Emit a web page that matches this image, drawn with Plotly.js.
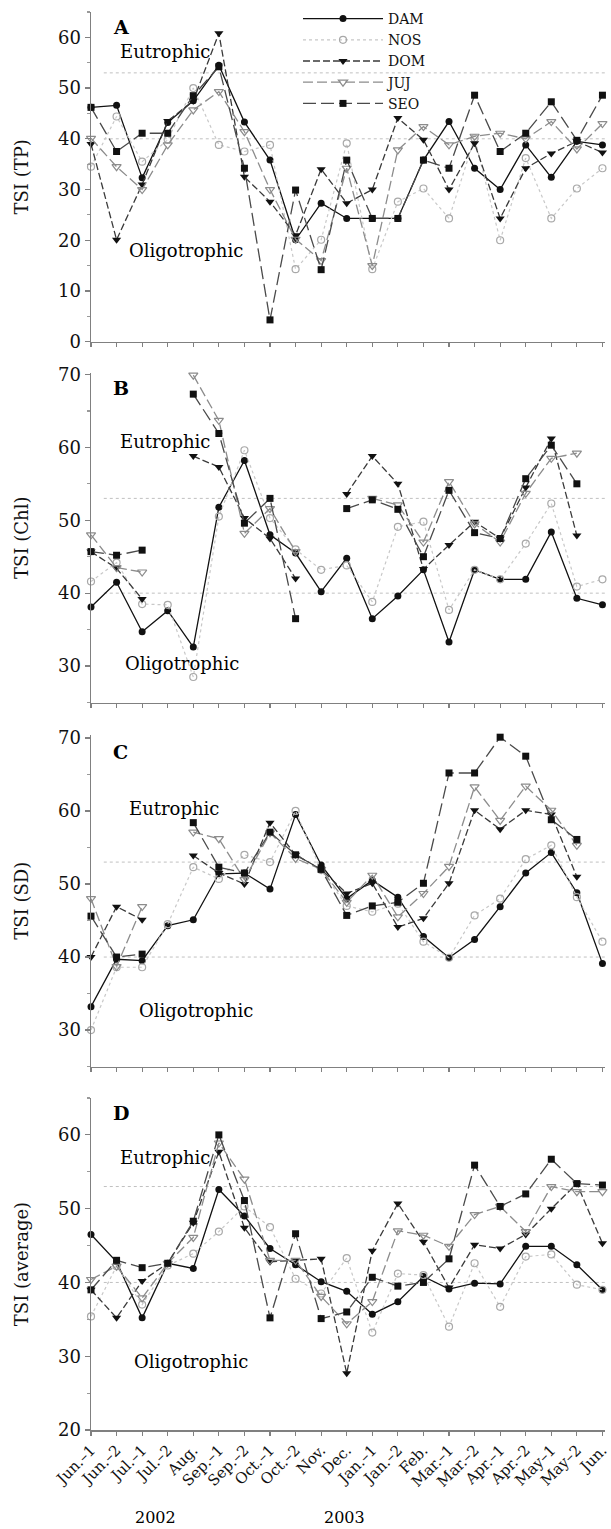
<!DOCTYPE html>
<html>
<head>
<meta charset="utf-8">
<script src="https://cdn.plot.ly/plotly-3.0.1.min.js"></script>
<style>html,body{margin:0;padding:0;background:#fff;}#chart{width:611px;height:1529px;}</style>
</head>
<body>
<div id="chart"></div>
<script>
// ---- categories ----
const months = ['Jun.–1','Jun.–2','Jul.–1','Jul.–2','Aug.','Sep.–1','Sep.–2','Oct.–1','Oct.–2','Nov.','Dec.','Jan.–1','Jan.–2','Feb.','Mar.–1','Mar.–2','Apr.–1','Apr.–2','May–1','May–2','Jun.'];
const stations = ['DAM','NOS','DOM','JUJ','SEO'];
const yearLabels = ['2002','2003'];
const eutrophicLimit = 53;
const oligotrophicLimit = 40;

// ---- A: TSI (TP) ----
const tpDAM = [46.2,46.6,32.3,43.2,47.5,54.5,43.3,35.8,20.1,27.3,24.3,24.3,24.3,35.8,43.4,34.2,30.0,38.8,32.4,39.5,38.8];
const tpNOS = [34.5,44.4,35.5,39.8,50.0,38.8,37.5,38.8,14.3,20.1,39.1,14.3,27.6,30.2,24.3,40.1,20.0,36.2,24.3,30.2,34.2];
const tpDOM = [39.0,20.1,31.0,43.5,47.5,60.8,32.5,27.6,21.0,34.0,27.3,30.0,44.1,39.8,30.0,39.1,24.3,34.2,37.1,39.5,37.3];
const tpJUJ = [40.1,34.5,30.0,38.8,45.7,49.3,41.4,30.0,20.2,16.0,34.2,15.0,37.8,42.4,38.8,40.5,41.1,40.0,43.4,38.0,43.0];
const tpSEO = [46.2,37.5,41.1,41.1,48.5,54.2,34.2,4.3,29.9,14.2,35.8,24.3,24.3,35.8,34.2,48.6,37.5,41.1,47.3,39.7,48.6];

// ---- B: TSI (Chl) ----
const chlDAM = [38.1,41.5,34.7,37.6,32.6,51.8,58.2,48.0,45.5,40.2,44.8,36.5,39.6,43.2,33.3,43.2,41.9,41.9,48.4,39.3,38.4];
const chlNOS = [41.6,44.2,38.5,38.4,28.5,50.5,59.6,50.3,46.0,43.2,43.8,38.8,49.1,49.8,37.7,43.2,41.9,46.8,52.3,40.9,41.9];
const chlDOM = [45.7,43.4,39.2,null,58.8,57.3,50.3,47.5,42.0,null,53.6,58.8,55.0,43.3,46.6,49.8,47.5,54.5,61.2,47.9,null];
const chlJUJ = [48.0,43.5,42.9,null,69.9,63.7,48.2,51.6,45.7,null,null,53.0,52.1,47.0,55.3,49.5,47.0,53.7,58.5,59.2,null];
const chlSEO = [45.7,45.2,45.9,null,67.3,61.9,49.6,53.0,36.5,null,51.6,52.8,51.5,45.0,54.1,48.3,47.5,55.7,60.3,55.0,null];

// ---- C: TSI (SD) ----
const sdDAM = [33.2,39.7,39.5,44.3,45.1,51.4,51.5,49.3,59.5,52.6,48.0,50.5,48.2,42.8,39.9,42.4,46.9,51.5,54.3,48.8,39.1];
const sdNOS = [30.0,38.6,38.6,44.5,52.3,50.7,54.0,53.0,60.0,51.9,47.0,46.2,47.3,42.1,39.9,45.7,48.0,53.4,55.3,48.2,42.1];
const sdDOM = [40.0,46.9,45.1,null,53.9,51.5,50.0,58.4,54.0,52.0,48.7,50.1,44.1,45.3,50.1,60.1,57.5,60.1,59.5,51.0,null];
const sdJUJ = [48.0,38.7,46.9,null,57.1,56.2,50.6,57.0,53.5,52.0,47.5,51.2,45.5,48.7,52.4,63.3,58.7,63.4,60.1,55.3,null];
const sdSEO = [45.6,40.0,40.4,null,58.4,52.3,51.5,57.1,54.0,52.0,45.7,47.0,47.5,50.1,65.2,65.2,70.1,67.5,58.8,56.1,null];

// ---- D: TSI (average) ----
const avgDAM = [46.5,42.8,35.2,42.6,41.9,52.6,49.0,44.6,42.4,40.1,38.8,35.7,37.4,40.8,39.1,39.9,39.8,44.9,44.9,42.4,39.0];
const avgNOS = [35.4,42.2,37.0,42.3,43.9,46.9,50.3,47.5,40.5,38.5,43.3,33.2,41.2,41.0,34.0,42.6,36.7,43.5,43.8,39.7,39.0];
const avgDOM = [39.0,35.2,40.2,42.6,48.1,57.7,47.4,42.8,43.0,43.2,27.7,44.3,50.7,45.5,39.3,45.1,44.6,46.5,50.0,53.4,45.3];
const avgJUJ = [40.4,42.2,37.9,42.6,46.1,58.9,54.0,43.0,43.0,38.1,34.4,37.4,47.0,46.4,44.9,49.2,50.3,46.9,53.0,52.3,52.3];
const avgSEO = [39.0,43.0,42.0,42.6,48.3,60.0,51.1,35.2,46.6,35.1,36.0,40.7,39.5,40.0,43.2,55.9,50.3,52.0,56.7,53.4,53.2];

// ---- layout helpers (pixel -> paper) ----
const W = 611, H = 1529, L = 91, R = 6;
const PW = W - L - R;
const px = v => (v - L) / PW;
const py = v => 1 - v / H;
const FONT = 'DejaVu Serif';

const panels = [
  {letter:'A', title:'TSI (TP)', series:[tpDAM,tpNOS,tpDOM,tpJUJ,tpSEO], range:[0,65], top:12, bottom:341.7, letterY:27, eu:[118,51], oli:[127,250]},
  {letter:'B', title:'TSI (Chl)', series:[chlDAM,chlNOS,chlDOM,chlJUJ,chlSEO], range:[25,70.2], top:373, bottom:702.5, letterY:388, eu:[118,442], oli:[123,663]},
  {letter:'C', title:'TSI (SD)', series:[sdDAM,sdNOS,sdDOM,sdJUJ,sdSEO], range:[25,70.4], top:735, bottom:1066.6, letterY:752, eu:[127,808], oli:[137,1010]},
  {letter:'D', title:'TSI (average)', series:[avgDAM,avgNOS,avgDOM,avgJUJ,avgSEO], range:[20,65], top:1098, bottom:1430, letterY:1113, eu:[118,1157], oli:[132,1361]}
];

const styles = {
  DAM:{line:{color:'#111',width:1.3,dash:'solid'}, marker:{symbol:'circle',size:7,color:'#111'}},
  NOS:{line:{color:'#c8c8c8',width:1.2,dash:'dot'}, marker:{symbol:'circle-open',size:7,color:'#a8a8a8',line:{width:1.2,color:'#a8a8a8'}}},
  DOM:{line:{color:'#3a3a3a',width:1.3,dash:'7px,3px'}, marker:{symbol:'triangle-down',size:8,color:'#111'}},
  JUJ:{line:{color:'#8c8c8c',width:1.3,dash:'10px,4px'}, marker:{symbol:'triangle-down-open',size:8,color:'#8c8c8c',line:{width:1.2,color:'#8c8c8c'}}},
  SEO:{line:{color:'#4a4a4a',width:1.3,dash:'13px,5px'}, marker:{symbol:'square',size:7,color:'#111'}}
};

const traces = [];
const layout = {
  width: W, height: H,
  margin:{l:L, r:R, t:0, b:0},
  paper_bgcolor:'#fff', plot_bgcolor:'rgba(0,0,0,0)',
  font:{family:FONT, size:16, color:'#111'},
  showlegend:true,
  legend:{x:px(298), y:py(3), xanchor:'left', yanchor:'top', bgcolor:'rgba(0,0,0,0)',
          font:{family:FONT, size:14, color:'#111'}, itemwidth:80, tracegroupgap:0, itemclick:false},
  annotations:[], shapes:[]
};

panels.forEach((p, k) => {
  const n = k + 1;
  const xa = n === 1 ? 'x' : 'x' + n;
  const ya = n === 1 ? 'y' : 'y' + n;
  stations.forEach((s, j) => {
    traces.push({
      type:'scatter', mode:'lines+markers', name:s,
      x: months, y: p.series[j],
      xaxis: xa, yaxis: ya,
      line: styles[s].line, marker: styles[s].marker,
      showlegend: k === 0, cliponaxis:false, hoverinfo:'skip'
    });
  });
  layout[(n === 1 ? 'xaxis' : 'xaxis' + n)] = {
    type:'category', range:[0, 20.1], anchor: ya, domain:[0,1],
    showline:true, linecolor:'#808080', linewidth:1.5,
    ticks:'outside', ticklen:4, tickcolor:'#808080', tickwidth:1.2,
    showgrid:false, zeroline:false,
    showticklabels: k === 3, tickangle:-45,
    tickfont:{family:FONT, size:15, color:'#111'}
  };
  layout[(n === 1 ? 'yaxis' : 'yaxis' + n)] = {
    range:p.range, anchor: xa, domain:[py(p.bottom), py(p.top)],
    showline:true, linecolor:'#808080', linewidth:1.5,
    ticks:'outside', ticklen:5, tickcolor:'#808080', tickwidth:1.2,
    dtick:10, tick0:0,
    minor:{dtick:5, tick0:0, ticks:'outside', ticklen:3, tickcolor:'#999'},
    showgrid:false, zeroline:false,
    tickfont:{family:FONT, size:18, color:'#111'},
    title:{text:p.title, font:{family:FONT, size:18, color:'#111'}, standoff:24}
  };
  [eutrophicLimit, oligotrophicLimit].forEach(v => {
    layout.shapes.push({type:'line', xref:xa, yref:ya, x0:0.5, x1:20.1, y0:v, y1:v,
      line:{color:'#c0c0c0', width:1, dash:'dot'}, layer:'below'});
  });
  layout.annotations.push({xref:'paper', yref:'paper', x:px(111), y:py(p.letterY), xanchor:'left', yanchor:'middle',
    text:'<b>' + p.letter + '</b>', showarrow:false, font:{family:FONT, size:19, color:'#000'}});
  layout.annotations.push({xref:'paper', yref:'paper', x:px(p.eu[0]), y:py(p.eu[1]), xanchor:'left', yanchor:'middle',
    text:'Eutrophic', showarrow:false, font:{family:FONT, size:18, color:'#000'}});
  layout.annotations.push({xref:'paper', yref:'paper', x:px(p.oli[0]), y:py(p.oli[1]), xanchor:'left', yanchor:'middle',
    text:'Oligotrophic', showarrow:false, font:{family:FONT, size:18, color:'#000'}});
});

layout.annotations.push({xref:'paper', yref:'paper', x:px(155), y:py(1517), xanchor:'center', yanchor:'middle',
  text:yearLabels[0], showarrow:false, font:{family:FONT, size:16, color:'#000'}});
layout.annotations.push({xref:'paper', yref:'paper', x:px(344.5), y:py(1517), xanchor:'center', yanchor:'middle',
  text:yearLabels[1], showarrow:false, font:{family:FONT, size:16, color:'#000'}});

Plotly.newPlot('chart', traces, layout, {displayModeBar:false, staticPlot:true});
</script>
</body>
</html>
